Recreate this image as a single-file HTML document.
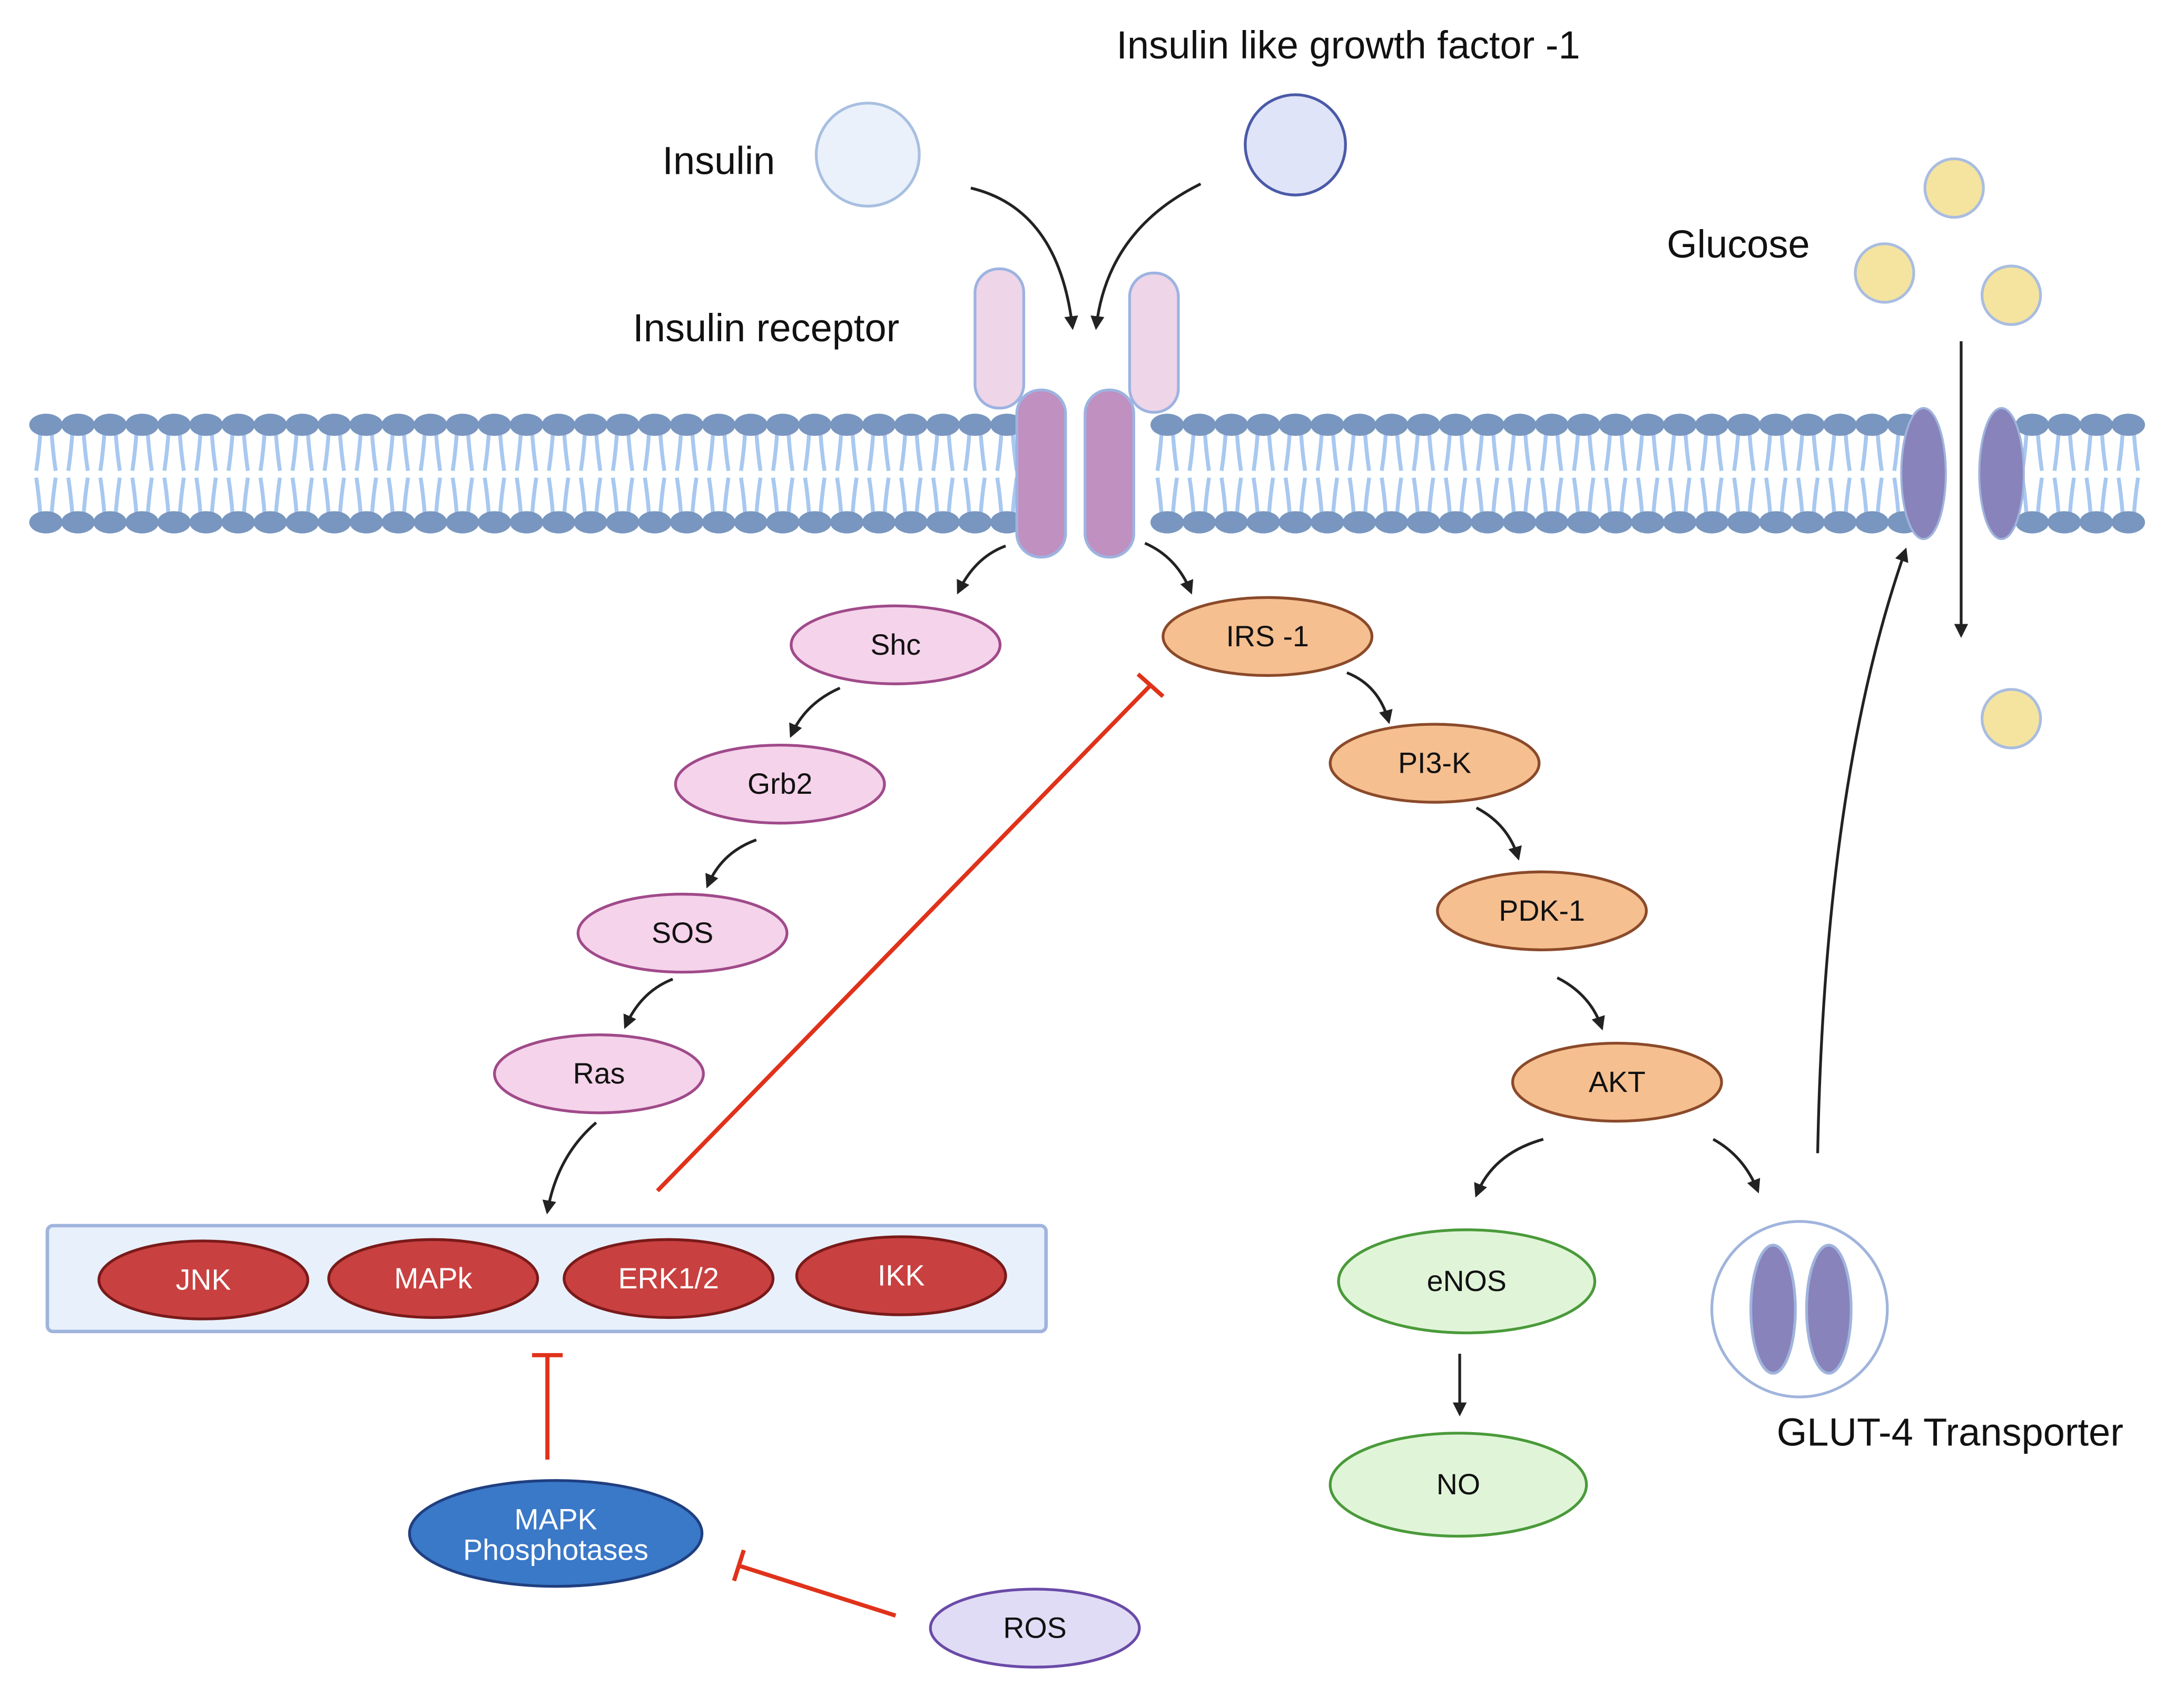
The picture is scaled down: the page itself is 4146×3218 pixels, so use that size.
<!DOCTYPE html>
<html><head><meta charset="utf-8">
<style>html,body{margin:0;padding:0;background:#fff}svg{display:block}text{font-family:"Liberation Sans",sans-serif}</style>
</head><body>
<svg id="s" width="4146" height="3218" viewBox="0 0 1568 1217" xmlns="http://www.w3.org/2000/svg">
<defs>
<marker id="ah" viewBox="0 0 10 10" refX="8" refY="5" markerWidth="5" markerHeight="5" orient="auto"><path d="M0,0 L10,5 L0,10 z" fill="#222"/></marker>
</defs>
<rect width="1568" height="1217" fill="#fff"/>
<g id="mem"></g>
<!-- receptor -->
<rect x="700" y="193" width="35" height="100" rx="17" fill="#eed5e8" stroke="#9db3e0" stroke-width="2"/>
<rect x="811" y="196" width="35" height="100" rx="17" fill="#eed5e8" stroke="#9db3e0" stroke-width="2"/>
<rect x="730" y="280" width="35" height="120" rx="17" fill="#c090c0" stroke="#9db3e0" stroke-width="2"/>
<rect x="779" y="280" width="35" height="120" rx="17" fill="#c090c0" stroke="#9db3e0" stroke-width="2"/>
<!-- GLUT in membrane -->
<ellipse cx="1381" cy="340" rx="16" ry="47" fill="#8883bb" stroke="#a0b4dc" stroke-width="1.5"/>
<ellipse cx="1437" cy="340" rx="16" ry="47" fill="#8883bb" stroke="#a0b4dc" stroke-width="1.5"/>
<!-- ligands -->
<circle cx="623" cy="111" r="37" fill="#eaf1fb" stroke="#a8bfe0" stroke-width="2"/>
<circle cx="930" cy="104" r="36" fill="#dfe4f8" stroke="#4a5aa8" stroke-width="2"/>
<circle cx="1403" cy="135" r="21" fill="#f5e4a0" stroke="#a9bde0" stroke-width="2"/>
<circle cx="1353" cy="196" r="21" fill="#f5e4a0" stroke="#a9bde0" stroke-width="2"/>
<circle cx="1444" cy="212" r="21" fill="#f5e4a0" stroke="#a9bde0" stroke-width="2"/>
<circle cx="1444" cy="516" r="21" fill="#f5e4a0" stroke="#a9bde0" stroke-width="2"/>
<g font-size="28" fill="#111">
<text x="968" y="42" text-anchor="middle">Insulin like growth factor -1</text>
<text x="516" y="125" text-anchor="middle">Insulin</text>
<text x="550" y="245" text-anchor="middle">Insulin receptor</text>
<text x="1248" y="185" text-anchor="middle">Glucose</text>
<text x="1400" y="1038" text-anchor="middle">GLUT-4 Transporter</text>
</g>
<!-- arrows -->
<g fill="none" stroke="#222" stroke-width="2" marker-end="url(#ah)">
<path d="M697,135 Q760,150 770,235"/>
<path d="M862,132 Q795,165 787,235"/>
<path d="M1408,245 L1408,456"/>
<path d="M1305,828 Q1310,560 1368,395"/>
<path d="M722,392 Q700,400 688,425"/>
<path d="M822,390 Q845,400 855,425"/>
<path d="M603,494 Q578,505 568,528"/>
<path d="M543,603 Q518,612 508,636"/>
<path d="M483,703 Q460,712 449,737"/>
<path d="M428,806 Q400,830 393,870"/>
<path d="M967,483 Q990,492 997,518"/>
<path d="M1060,580 Q1083,592 1090,616"/>
<path d="M1118,702 Q1142,714 1150,738"/>
<path d="M1108,818 Q1072,828 1060,858"/>
<path d="M1230,818 Q1252,830 1262,855"/>
<path d="M1048,972 L1048,1015"/>
</g>
<!-- inhibition -->
<g stroke="#e0321a" stroke-width="3" fill="none">
<path d="M472,855 L826,492"/><path d="M817,484 L835,500"/>
<path d="M393,1048 L393,973"/><path d="M382,973 L404,973"/>
<path d="M643,1160 L530,1124"/><path d="M534,1113 L527,1135"/>
</g>
<!-- box -->
<rect x="34" y="880" width="717" height="76" rx="4" fill="#e8f0fb" stroke="#a0b4dc" stroke-width="2.5"/>
<g font-size="21" text-anchor="middle">
<g stroke-width="2">
<ellipse cx="643" cy="463" rx="75" ry="28" fill="#f5d3ea" stroke="#a04a8a"/>
<ellipse cx="560" cy="563" rx="75" ry="28" fill="#f5d3ea" stroke="#a04a8a"/>
<ellipse cx="490" cy="670" rx="75" ry="28" fill="#f5d3ea" stroke="#a04a8a"/>
<ellipse cx="430" cy="771" rx="75" ry="28" fill="#f5d3ea" stroke="#a04a8a"/>
<ellipse cx="910" cy="457" rx="75" ry="28" fill="#f5bf90" stroke="#8b4a2a"/>
<ellipse cx="1030" cy="548" rx="75" ry="28" fill="#f5bf90" stroke="#8b4a2a"/>
<ellipse cx="1107" cy="654" rx="75" ry="28" fill="#f5bf90" stroke="#8b4a2a"/>
<ellipse cx="1161" cy="777" rx="75" ry="28" fill="#f5bf90" stroke="#8b4a2a"/>
<ellipse cx="146" cy="919" rx="75" ry="28" fill="#c94040" stroke="#7a1a1a"/>
<ellipse cx="311" cy="918" rx="75" ry="28" fill="#c94040" stroke="#7a1a1a"/>
<ellipse cx="480" cy="918" rx="75" ry="28" fill="#c94040" stroke="#7a1a1a"/>
<ellipse cx="647" cy="916" rx="75" ry="28" fill="#c94040" stroke="#7a1a1a"/>
<ellipse cx="399" cy="1101" rx="105" ry="38" fill="#3a78c8" stroke="#1f3f80"/>
<ellipse cx="743" cy="1169" rx="75" ry="28" fill="#e0dcf5" stroke="#6a4aa8"/>
<ellipse cx="1053" cy="920" rx="92" ry="37" fill="#e0f5d8" stroke="#4a9a3a"/>
<ellipse cx="1047" cy="1066" rx="92" ry="37" fill="#e0f5d8" stroke="#4a9a3a"/>
<circle cx="1292" cy="940" r="63" fill="#fff" stroke="#a0b4dc"/>
<ellipse cx="1273" cy="940" rx="16" ry="46" fill="#8883bb" stroke="#a0b4dc"/>
<ellipse cx="1313" cy="940" rx="16" ry="46" fill="#8883bb" stroke="#a0b4dc"/>
</g>
<g fill="#111">
<text x="643" y="470">Shc</text><text x="560" y="570">Grb2</text><text x="490" y="677">SOS</text><text x="430" y="778">Ras</text>
<text x="910" y="464">IRS -1</text><text x="1030" y="555">PI3-K</text><text x="1107" y="661">PDK-1</text><text x="1161" y="784">AKT</text>
<text x="743" y="1176">ROS</text><text x="1053" y="927">eNOS</text><text x="1047" y="1073">NO</text>
</g>
<g fill="#fff">
<text x="146" y="926">JNK</text><text x="311" y="925">MAPk</text><text x="480" y="925">ERK1/2</text><text x="647" y="923">IKK</text>
<text x="399" y="1098">MAPK</text><text x="399" y="1120">Phosphotases</text>
</g>
</g>
</svg>
<script>
var g=document.getElementById('mem'),h='';
for(var x=33;x<1550;x+=23){
 if(x>728&&x<818)continue;
 if(x>1368&&x<1450)continue;
 h+='<path d="M'+(x-4)+',310 Q'+(x-5)+',325 '+(x-7)+',338 M'+(x+4)+',310 Q'+(x+5)+',325 '+(x+7)+',338 M'+(x-7)+',343 Q'+(x-5)+',356 '+(x-4)+',370 M'+(x+7)+',343 Q'+(x+5)+',356 '+(x+4)+',370" stroke="#a8c8f0" stroke-width="2.8" fill="none"/>';
 h+='<ellipse cx="'+x+'" cy="305" rx="12" ry="8" fill="#7896bf"/><ellipse cx="'+x+'" cy="375" rx="12" ry="8" fill="#7896bf"/>';
}
g.innerHTML=h;
</script>
</body></html>
